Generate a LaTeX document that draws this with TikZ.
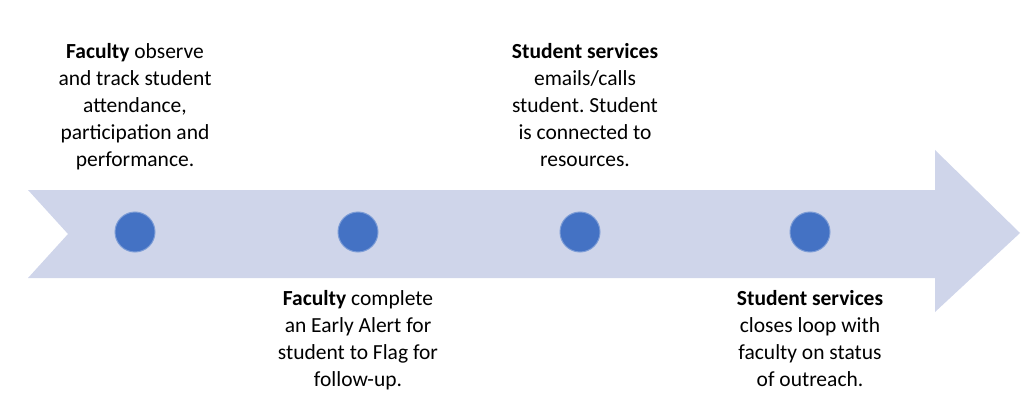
\documentclass[tikz,border=0pt]{standalone}
\usepackage{fontspec}
\setmainfont{Carlito}
\frenchspacing
\definecolor{band}{RGB}{207,213,234}
\definecolor{dot}{RGB}{68,114,196}
\begin{document}
\begin{tikzpicture}[x=1pt,y=-1pt]
		\tikzset{stage/.style={circle,fill=dot,draw=dot!70!white,line width=1pt,minimum size=40pt,inner sep=0pt},
			note/.style={align=center,font=\fontsize{21.5}{27}\selectfont,inner sep=0pt,anchor=north}}
		\useasboundingbox (0,0) rectangle (1024,414);
		\fill [band] (28,190) -- (935,190) -- (935,150) -- (1020,233) -- (935,312) -- (935,278) -- (28,278) -- (68,234) -- cycle;
		\node [stage] (s1) at (135,232) {};
		\node [stage] (s2) at (358,232) {};
		\node [stage] (s3) at (580,232) {};
		\node [stage] (s4) at (810,232) {};
		\node [note] (t1) at (135,43) {\textbf{Faculty} observe\\and track student\\attendance,\\participation and\\performance.};
		\node [note] (t2) at (358,290) {\textbf{Faculty} complete\\an Early Alert for\\student to Flag for\\follow-up.};
		\node [note] (t3) at (585,43) {\textbf{Student services}\\emails/calls\\student. Student\\is connected to\\resources.};
		\node [note] (t4) at (810,290) {\textbf{Student services}\\closes loop with\\faculty on status\\of outreach.};
\end{tikzpicture}
\end{document}
